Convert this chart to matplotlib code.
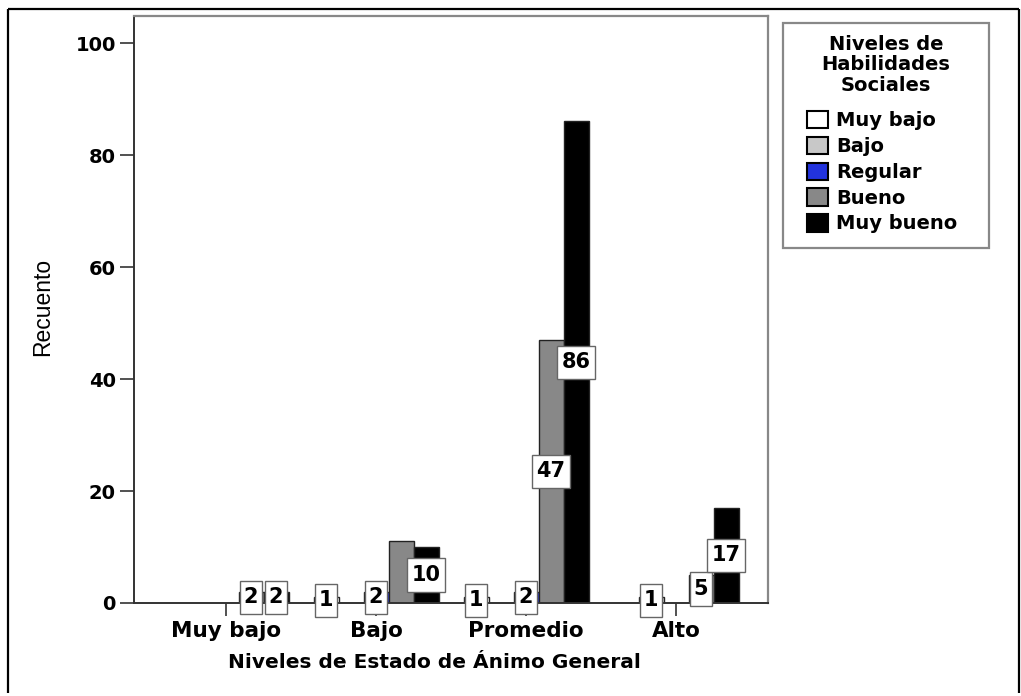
import matplotlib
matplotlib.use('Agg')
import matplotlib.pyplot as plt
from matplotlib.patches import Patch, Rectangle
from matplotlib.lines import Line2D
from matplotlib.path import Path
import numpy as np

# Niveles de Estado de Animo General (eje x)
categories = ["Muy bajo", "Bajo", "Promedio", "Alto"]

# Niveles de Habilidades Sociales (series)
series_names = ["Muy bajo", "Bajo", "Regular", "Bueno", "Muy bueno"]
series_colors = ["#ffffff", "#c8c8c8", "#2233dd", "#888888", "#000000"]

muy_bajo = [0, 1, 1, 0]
bajo = [0, 0, 0, 1]
regular = [0, 2, 2, 0]
bueno = [2, 11, 47, 5]
muy_bueno = [2, 10, 86, 17]
values = [muy_bajo, bajo, regular, bueno, muy_bueno]

# etiquetas que muestra el grafico original (None = sin etiqueta)
shown_labels = [
    [None, 1, 1, None],
    [None, None, None, 1],
    [None, 2, 2, None],
    [2, None, 47, 5],
    [2, 10, 86, 17],
]

W, H = 1021, 696


def fx(px):
    return px / W


def fy(py):
    return 1 - py / H


def tall_box(x0, y0, width, height, mutation_size):
    # caja de etiqueta estilo SPSS: estrecha y alta
    padx = 0.2 * mutation_size
    pady = 0.32 * mutation_size
    x0, y0 = x0 - padx, y0 - pady
    x1, y1 = x0 + width + 2 * padx, y0 + height + 2 * pady
    return Path([(x0, y0), (x1, y0), (x1, y1), (x0, y1), (x0, y0)], closed=True)


fig = plt.figure(figsize=(W / 100, H / 100), dpi=100)
plt.rcParams['font.family'] = ['DejaVu Sans']

# marco exterior (sin linea inferior)
for xs, ys in [([8, 8], [H - 3, 9]), ([8, 1019], [9, 9]), ([1019, 1019], [9, H - 3])]:
    fig.add_artist(Line2D([fx(v) for v in xs], [fy(v) for v in ys],
                          color='black', lw=1.6, solid_capstyle='butt',
                          transform=fig.transFigure))

ax = fig.add_axes([fx(134), fy(603), (768 - 134) / W, (603 - 16) / H])

x = np.arange(len(categories))
bw = 1 / 6
for i, (name, vals, col) in enumerate(zip(series_names, values, series_colors)):
    pos = x + (i - 2) * bw
    ax.bar(pos, vals, width=bw, color=col, edgecolor='#222222', linewidth=1.0,
           label=name, zorder=2)
for i, vals in enumerate(values):
    pos = x + (i - 2) * bw
    for p, v, lab in zip(pos, vals, shown_labels[i]):
        if lab is None:
            continue
        ax.text(p, v / 2, str(lab), ha='center', va='center', fontsize=15,
                fontweight='bold', zorder=3,
                bbox=dict(boxstyle=tall_box, fc='white', ec='#666666', lw=1.0))

ax.set_xlim(-(226 - 134) / 150, (768 - 226) / 150)
ax.set_ylim(0, (602 - 16) / 5.59)
ax.set_yticks([0, 20, 40, 60, 80, 100])
ax.set_xticks(x)
ax.set_xticklabels(categories)
ax.tick_params(axis='y', length=10, width=1.2, color='#333333', labelsize=14, pad=3)
ax.tick_params(axis='x', length=9, width=1.2, color='#333333', labelsize=15.5, pad=4)
for lab in ax.get_xticklabels() + ax.get_yticklabels():
    lab.set_fontweight('bold')

for side in ['left', 'bottom']:
    ax.spines[side].set_color('#333333')
    ax.spines[side].set_linewidth(1.4)
for side in ['top', 'right']:
    ax.spines[side].set_color('#888888')
    ax.spines[side].set_linewidth(1.6)

fig.text(fx(434), fy(663), "Niveles de Estado de Ánimo General", ha='center',
         va='center', fontsize=14.5, fontweight='bold')
fig.text(fx(43), fy(307), "Recuento", ha='center', va='center',
         rotation=90, fontsize=16.5, family=['Liberation Sans', 'DejaVu Sans'])

# leyenda: marco, titulo y entradas
fig.add_artist(Rectangle((fx(783), fy(248)), (989 - 783) / W, (248 - 23) / H,
                         transform=fig.transFigure, fill=False,
                         edgecolor='#888888', lw=1.6))
fig.text(fx(886), fy(65), "Niveles de\nHabilidades\nSociales", ha='center',
         va='center', multialignment='center', fontsize=14, fontweight='bold',
         linespacing=1.12)
handles = [Patch(facecolor=c, edgecolor='black', linewidth=1.5) for c in series_colors]
leg = fig.legend(handles, series_names, loc='upper left',
                 bbox_to_anchor=(fx(807), fy(111)), borderaxespad=0,
                 prop={'size': 14, 'weight': 'bold'}, frameon=False,
                 handlelength=1.1, handleheight=1.0, handletextpad=0.4,
                 labelspacing=0.33, borderpad=0)

fig.savefig('out.png', dpi=100)
